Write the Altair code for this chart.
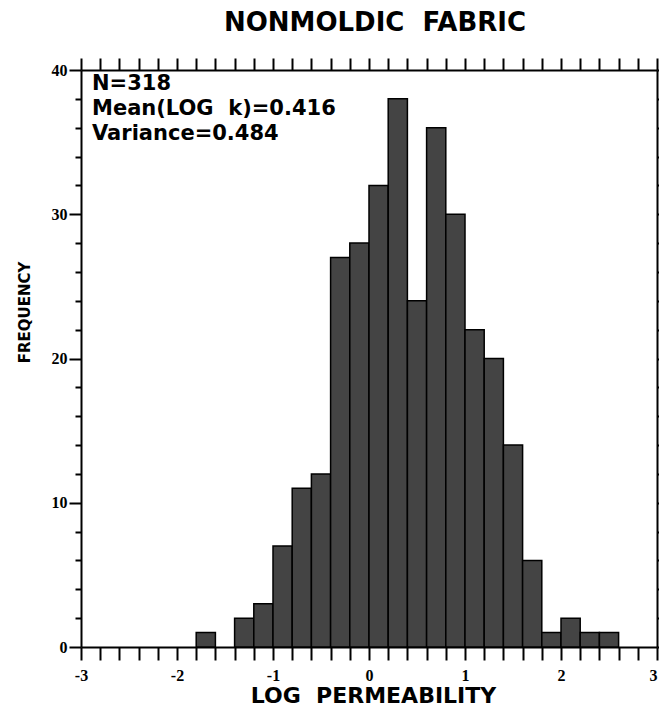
import altair as alt
import pandas as pd

# ---- data ----
bin_start = [-1.8, -1.4, -1.2, -1.0, -0.8, -0.6, -0.4, -0.2, 0.0, 0.2, 0.4,
             0.6, 0.8, 1.0, 1.2, 1.4, 1.6, 1.8, 2.0, 2.2, 2.4]
counts = [1, 2, 3, 7, 11, 12, 27, 28, 32, 38, 24,
          36, 30, 22, 20, 14, 6, 1, 2, 1, 1]
bin_width = 0.2
x_tick_values = [round(-3 + 0.2 * i, 1) for i in range(31)]
y_tick_values = list(range(0, 42, 2))
stats_lines = ["N=318", "Mean(LOG\u00a0\u00a0k)=0.416", "Variance=0.484"]
chart_title = "NONMOLDIC\u00a0\u00a0FABRIC"
x_title = "LOG\u00a0\u00a0PERMEABILITY"
y_title = "FREQUENCY"

df = pd.DataFrame({
    "start": bin_start,
    "end": [round(s + bin_width, 1) for s in bin_start],
    "count": counts,
})

SANS = "DejaVu Sans"
SERIF = "Liberation Serif"

W, H = 576, 577

xs = alt.Scale(domain=[-3, 3], nice=False, zero=False)
ys = alt.Scale(domain=[0, 40], nice=False, zero=True)

bars = alt.Chart(df).mark_bar(
    fill="#444444", stroke="black", strokeWidth=1.5
).encode(
    x=alt.X("start:Q", scale=xs, axis=alt.Axis(
        orient="bottom", values=x_tick_values,
        labelExpr="abs(datum.value - round(datum.value)) < 0.01 ? '' + round(datum.value) : ''",
        labelOverlap=False, labelFlush=False,
        labelAlign={"condition": {"test": "datum.value > 2.9", "value": "right"}, "value": "center"},
        tickSize=13, tickWidth=2, tickColor="black",
        domainWidth=2, domainColor="black", grid=False,
        labelFont=SERIF, labelFontWeight="bold", labelFontSize=16,
        labelColor="black", labelPadding=7,
        title=x_title, titleFont=SANS, titleFontWeight="bold",
        titleFontSize=22, titleColor="black",
        titleX=292, titleY=48, titleBaseline="middle", titleAlign="center",
    )),
    x2="end:Q",
    y=alt.Y("count:Q", scale=ys, axis=alt.Axis(
        orient="left", values=y_tick_values,
        labelExpr="datum.value % 10 === 0 ? datum.label : ''",
        labelOverlap=False, labelFlush=False,
        tickSize={"condition": {"test": "datum.value % 10 === 0", "value": 12}, "value": 6},
        tickWidth=2, tickColor="black",
        domainWidth=2, domainColor="black", grid=False,
        labelFont=SERIF, labelFontWeight="bold", labelFontSize=16,
        labelColor="black", labelPadding=2,
        title=y_title, titleFont=SANS, titleFontWeight="bold",
        titleFontSize=15, titleColor="black",
        titleX=-57, titleY=242, titleBaseline="middle", titleAlign="center",
        titleAngle=270,
    )),
    y2=alt.datum(0),
)

frame = alt.Chart(df).mark_bar(opacity=0).encode(
    x=alt.X("start:Q", scale=xs, axis=alt.Axis(
        orient="top", values=x_tick_values, labels=False,
        tickSize=12, tickWidth=2, tickColor="black",
        domainWidth=2, domainColor="black", grid=False, title="",
    )),
    x2="end:Q",
    y=alt.Y("count:Q", scale=ys, axis=alt.Axis(
        orient="right", values=y_tick_values, labels=False,
        tickSize=5, tickWidth=2, tickColor="black",
        domainWidth=2, domainColor="black", grid=False, title="",
    )),
    y2=alt.datum(0),
)

stats = alt.Chart(pd.DataFrame({"k": [0]})).mark_text(
    text=stats_lines, align="left", baseline="top",
    font=SANS, fontWeight="bold", fontSize=21, lineHeight=25,
    color="black",
).encode(x=alt.value(11), y=alt.value(3))

chart = alt.layer(bars, frame, stats).resolve_axis(
    x="independent", y="independent"
).properties(
    width=W, height=H,
    title=alt.Title(chart_title, font=SANS, fontSize=26, fontWeight="bold",
                    color="black", anchor="middle", offset=21, dx=6),
    autosize=alt.AutoSizeParams(type="none"),
    padding={"left": 73, "top": 62, "right": 2, "bottom": 62},
).configure_view(strokeWidth=0)

chart.save("out.html", embed_options={"renderer": "svg", "actions": False})
